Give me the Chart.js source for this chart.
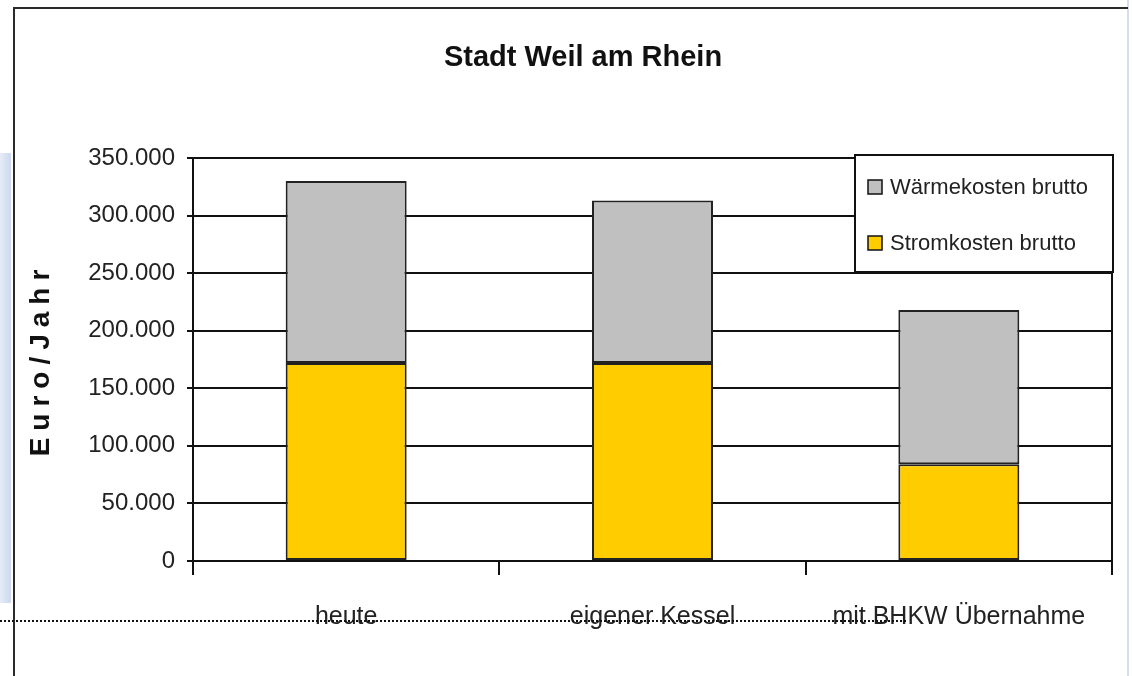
<!DOCTYPE html>
<html><head><meta charset="utf-8">
<script src="https://cdn.jsdelivr.net/npm/chart.js@4.4.1/dist/chart.umd.min.js"></script>
<style>
html,body{margin:0;padding:0;background:#fff;width:1132px;height:676px;overflow:hidden;position:relative}
#wrap{position:absolute;left:0;top:0;width:1132px;height:676px}
.frame{position:absolute;left:13px;top:7px;width:1113px;height:700px;border-left:2.5px solid #2a2a2a;border-top:2.5px solid #2a2a2a}
.strip{position:absolute;left:0;top:153px;width:11px;height:450px;background:linear-gradient(to right,#e6ecf7,#cdd8ee)}
.rline{position:absolute;left:1127px;top:0;width:2px;height:676px;background:#d3def0}
.dots{position:absolute;left:0;top:620px;width:906px;height:0;border-top:2px dotted #111}
</style></head>
<body>
<div class="strip"></div><div class="rline"></div><div class="frame"></div>
<div id="wrap"><canvas id="c" width="1132" height="676"></canvas></div>
<div class="dots"></div>
<script>
// ---- data ----
const categories = ['heute', 'eigener Kessel', 'mit BHKW Übernahme'];
const stromkosten = [172000, 172000, 84000];
const waermekosten = [158000, 141000, 134000];
const seriesNames = ['Stromkosten brutto', 'Wärmekosten brutto'];
const yMax = 350000;
const yStep = 50000;
const chartTitle = 'Stadt Weil am Rhein';
const yTitle = 'Euro/Jahr';

function hasFont(name){
  const c = document.createElement('canvas').getContext('2d');
  const s = 'mmmmmmmmmmlliWWW 0123456789';
  c.font = '40px monospace'; const a = c.measureText(s).width;
  c.font = '40px "' + name + '", monospace'; const b = c.measureText(s).width;
  return a !== b;
}
const narrow = hasFont('Liberation Sans Narrow');
const titleFam = narrow ? '"Liberation Sans Narrow"' : '"Liberation Sans", Arial, sans-serif';
const titleSize = narrow ? 35 : 29;
const titlePadTop = 58 - 0.6 * titleSize;
const titlePadBottom = 158 - titlePadTop - 1.2 * titleSize;
const baseFam = '"Liberation Sans", Arial, sans-serif';

function fmt(v){ return String(v).replace(/\B(?=(\d{3})+(?!\d))/g, '.'); }

const legendBox = {
  id: 'legendBox',
  afterDraw(chart){
    const {ctx, chartArea: a} = chart;
    const x = a.right - 257, y = a.top - 3, w = 258, h = 117;
    ctx.save();
    ctx.fillStyle = '#fff'; ctx.fillRect(x, y, w, h);
    ctx.lineWidth = 2; ctx.strokeStyle = '#111'; ctx.strokeRect(x, y, w, h);
    const items = chart.data.datasets.slice().reverse();
    ctx.font = '22px ' + baseFam; ctx.textBaseline = 'middle'; ctx.textAlign = 'left';
    items.forEach((ds, i) => {
      const cy = y + 32 + i * 56;
      ctx.fillStyle = ds.backgroundColor; ctx.fillRect(x + 13, cy - 7, 14, 14);
      ctx.lineWidth = 1.5; ctx.strokeStyle = '#111'; ctx.strokeRect(x + 13, cy - 7, 14, 14);
      ctx.fillStyle = '#222'; ctx.fillText(ds.label, x + 35, cy + 1);
    });
    ctx.restore();
  }
};

new Chart(document.getElementById('c'), {
  type: 'bar',
  data: {
    labels: categories,
    datasets: [
      {label: seriesNames[0], data: stromkosten, backgroundColor: '#FFCC00', borderColor: '#222', borderWidth: 2, borderSkipped: false},
      {label: seriesNames[1], data: waermekosten, backgroundColor: '#C0C0C0', borderColor: '#222', borderWidth: 2, borderSkipped: false}
    ]
  },
  plugins: [legendBox],
  options: {
    responsive: false,
    animation: false,
    events: [],
    layout: {padding: {left: 54, right: 20, top: 0, bottom: 0}},
    datasets: {bar: {categoryPercentage: 1, barPercentage: 0.395}},
    plugins: {
      legend: {display: false},
      tooltip: {enabled: false},
      title: {
        display: true, text: chartTitle, color: '#111',
        font: {family: titleFam, size: titleSize, weight: 'bold', lineHeight: 1.2},
        padding: {top: titlePadTop, bottom: titlePadBottom}
      }
    },
    scales: {
      x: {
        stacked: true,
        offset: true,
        grid: {
          offset: true,
          drawOnChartArea: true,
          color: c => c.type === 'scale' ? '#111' : 'rgba(0,0,0,0)',
          tickColor: '#111',
          lineWidth: 2,
          tickLength: 14,
          drawTicks: true
        },
        border: {display: true, color: '#111', width: 2},
        ticks: {color: '#222', font: {family: baseFam, size: 25}, padding: 27, maxRotation: 0, autoSkip: false},
        afterFit(scale){ scale.height = 115; }
      },
      y: {
        stacked: true,
        min: 0, max: yMax,
        grid: {color: '#111', lineWidth: 2, tickLength: 6, drawTicks: true, tickColor: '#111'},
        border: {display: true, color: '#111', width: 2},
        ticks: {stepSize: yStep, color: '#222', font: {family: baseFam, size: 24}, padding: 12, callback: v => fmt(v)},
        title: {display: true, text: yTitle, color: '#111', font: {family: baseFam, size: 28, weight: 'bold', lineHeight: 1.2}, padding: {top: -29.8, bottom: 0}},
        afterFit(scale){
          scale.width = 139;
          if (!scale._lsPatched){
            const orig = scale.drawTitle;
            scale.drawTitle = function(){
              const c = this.ctx; const prev = c.letterSpacing;
              c.letterSpacing = '7px';
              orig.apply(this, arguments);
              c.letterSpacing = prev || '0px';
            };
            scale._lsPatched = true;
          }
        }
      }
    }
  }
});
</script>
</body></html>
